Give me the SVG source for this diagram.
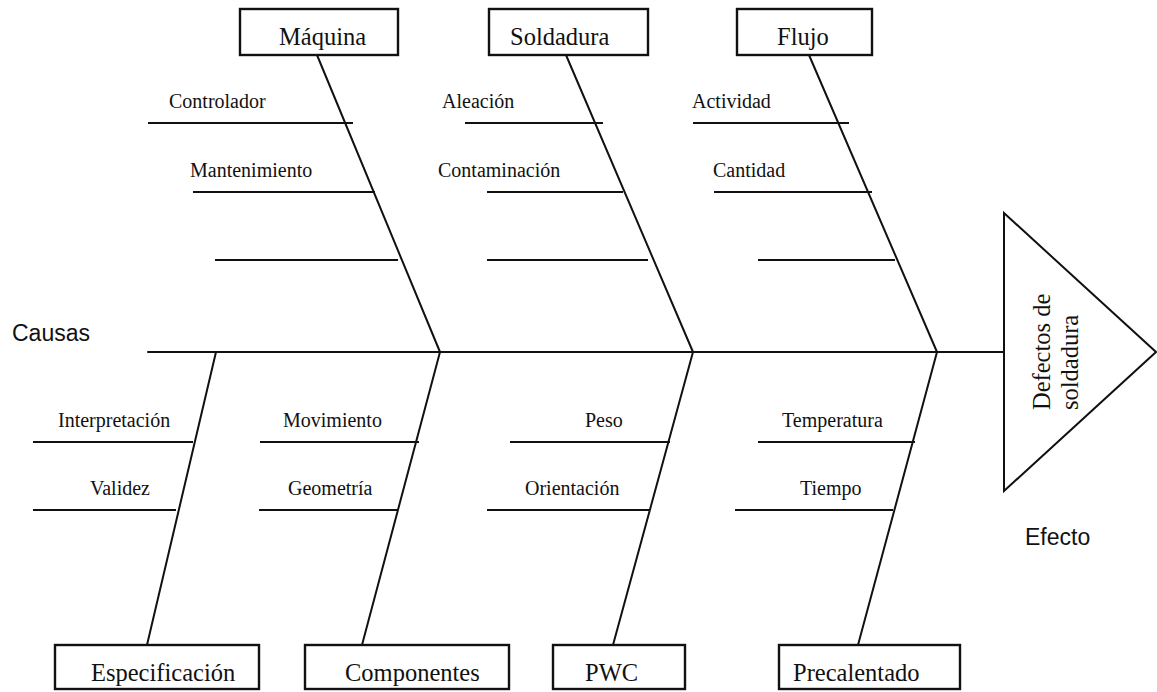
<svg xmlns="http://www.w3.org/2000/svg" width="1157" height="692" viewBox="0 0 1157 692">
  <style>
    .box { fill: #fff; stroke: #111; stroke-width: 2.4; }
    .title { font-family: "Liberation Serif", "Times New Roman", serif; font-size: 24.5px; fill: #111; }
    .cause { font-family: "Liberation Serif", "Times New Roman", serif; font-size: 20px; fill: #111; }
    .side { font-family: "Liberation Sans", Arial, sans-serif; font-size: 23px; fill: #111; }
    .bone { stroke: #111; stroke-width: 2; fill: none; stroke-linecap: round; }
    .rib { stroke: #111; stroke-width: 1.8; fill: none; }
  </style>

  <rect width="1157" height="692" fill="#fff"/>

  <!-- spine, category bones and sub-cause ribs -->
  <g id="connectors">
    <line class="bone" x1="148" y1="352" x2="1004" y2="352"/>
    <!-- upper bones -->
    <line class="bone" x1="317" y1="55" x2="440" y2="352"/>
    <line class="bone" x1="566" y1="55" x2="693" y2="352"/>
    <line class="bone" x1="809" y1="55" x2="937" y2="352"/>
    <!-- lower bones -->
    <line class="bone" x1="216" y1="352" x2="147" y2="645"/>
    <line class="bone" x1="440" y1="352" x2="362" y2="645"/>
    <line class="bone" x1="693" y1="352" x2="613" y2="645"/>
    <line class="bone" x1="937" y1="352" x2="858" y2="645"/>
    <!-- upper ribs -->
    <line class="rib" x1="148" y1="123" x2="353" y2="123"/>
    <line class="rib" x1="193" y1="192" x2="375" y2="192"/>
    <line class="rib" x1="215" y1="260" x2="398" y2="260"/>
    <line class="rib" x1="465" y1="123" x2="603" y2="123"/>
    <line class="rib" x1="487" y1="192" x2="623" y2="192"/>
    <line class="rib" x1="487" y1="260" x2="648" y2="260"/>
    <line class="rib" x1="693" y1="123" x2="849" y2="123"/>
    <line class="rib" x1="714" y1="192" x2="872" y2="192"/>
    <line class="rib" x1="758" y1="260" x2="895" y2="260"/>
    <!-- lower ribs -->
    <line class="rib" x1="33" y1="442" x2="193" y2="442"/>
    <line class="rib" x1="33" y1="510" x2="176" y2="510"/>
    <line class="rib" x1="260" y1="442" x2="419" y2="442"/>
    <line class="rib" x1="259" y1="510" x2="398" y2="510"/>
    <line class="rib" x1="510" y1="442" x2="670" y2="442"/>
    <line class="rib" x1="487" y1="510" x2="650" y2="510"/>
    <line class="rib" x1="758" y1="442" x2="915" y2="442"/>
    <line class="rib" x1="735" y1="510" x2="893" y2="510"/>
  </g>

  <!-- upper categories -->
  <g id="maquina">
    <rect class="box" x="240" y="9" width="158" height="46"/>
    <text class="title" x="279" y="45">Máquina</text>
    <text class="cause" x="169" y="108">Controlador</text>
    <text class="cause" x="190" y="177">Mantenimiento</text>
  </g>
  <g id="soldadura">
    <rect class="box" x="489" y="9" width="159" height="46"/>
    <text class="title" x="510" y="45">Soldadura</text>
    <text class="cause" x="442" y="108">Aleación</text>
    <text class="cause" x="438" y="177">Contaminación</text>
  </g>
  <g id="flujo">
    <rect class="box" x="737" y="9" width="135" height="46"/>
    <text class="title" x="777" y="45">Flujo</text>
    <text class="cause" x="692" y="108">Actividad</text>
    <text class="cause" x="713" y="177">Cantidad</text>
  </g>

  <!-- lower categories -->
  <g id="especificacion">
    <rect class="box" x="55" y="645" width="204" height="44"/>
    <text class="title" x="91" y="681">Especificación</text>
    <text class="cause" x="58" y="427">Interpretación</text>
    <text class="cause" x="90" y="495">Validez</text>
  </g>
  <g id="componentes">
    <rect class="box" x="305" y="645" width="204" height="44"/>
    <text class="title" x="345" y="681">Componentes</text>
    <text class="cause" x="283" y="427">Movimiento</text>
    <text class="cause" x="288" y="495">Geometría</text>
  </g>
  <g id="pwc">
    <rect class="box" x="553" y="645" width="132" height="44"/>
    <text class="title" x="585" y="681">PWC</text>
    <text class="cause" x="585" y="427">Peso</text>
    <text class="cause" x="525" y="495">Orientación</text>
  </g>
  <g id="precalentado">
    <rect class="box" x="779" y="645" width="181" height="44"/>
    <text class="title" x="793" y="681">Precalentado</text>
    <text class="cause" x="782" y="427">Temperatura</text>
    <text class="cause" x="800" y="495">Tiempo</text>
  </g>

  <!-- effect head -->
  <g id="efecto">
    <polygon points="1004,213 1156,352 1004,491" fill="#fff" stroke="#111" stroke-width="2"/>
    <text class="title" transform="translate(1050,410) rotate(-90)">Defectos de</text>
    <text class="title" transform="translate(1078,410) rotate(-90)">soldadura</text>
  </g>

  <!-- side captions -->
  <g id="captions">
    <text class="side" x="12" y="341">Causas</text>
    <text class="side" x="1025" y="545">Efecto</text>
  </g>
</svg>
